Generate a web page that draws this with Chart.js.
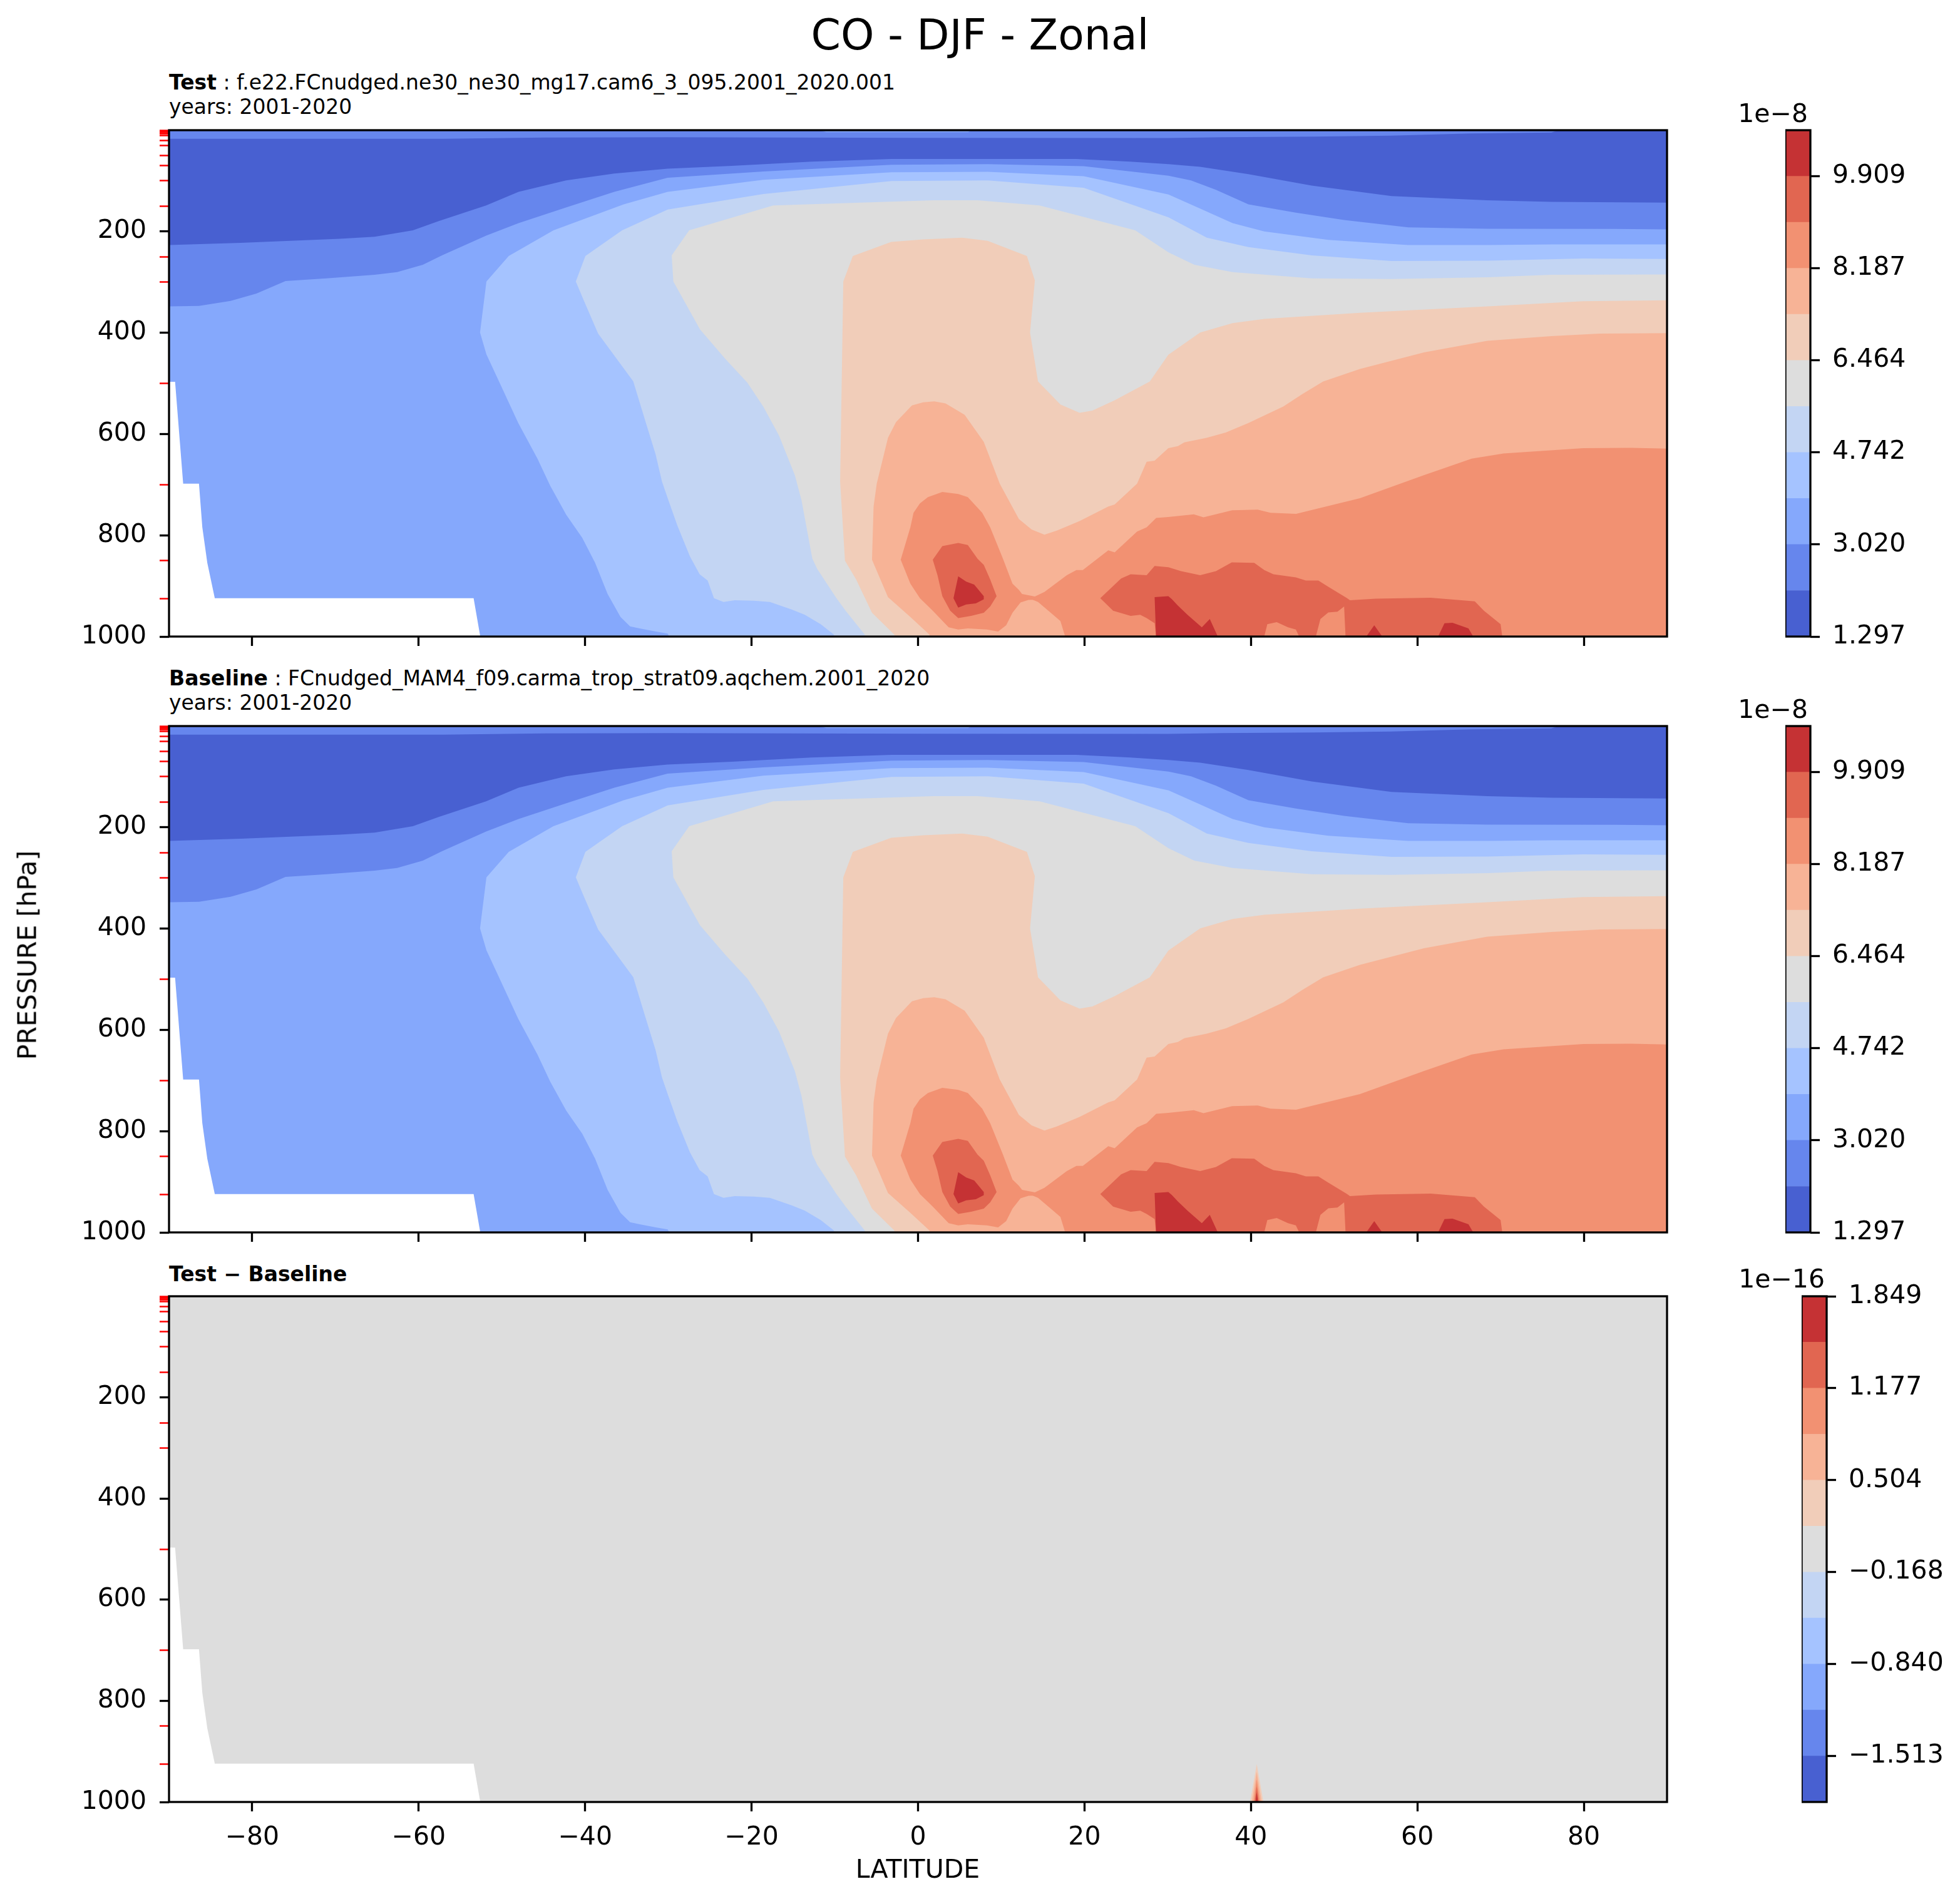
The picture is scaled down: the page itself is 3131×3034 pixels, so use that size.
<!DOCTYPE html>
<html>
<head>
<meta charset="utf-8">
<title>CO - DJF - Zonal</title>
<script src="https://cdn.jsdelivr.net/npm/chart.js@4.4.1/dist/chart.umd.min.js"></script>
<style>
    html, body { margin: 0; padding: 0; background: #fff; }
    body { width: 3131px; height: 3034px; position: relative; overflow: hidden; font-family: 'DejaVu Sans', sans-serif; color: #000; }
    canvas { position: absolute; }
    .txt { position: absolute; white-space: nowrap; line-height: 1; }
</style>
</head>
<body>

<div class="txt" style="left:0;width:3131px;text-align:center;top:22px;font-size:68px;">CO - DJF - Zonal</div>

<div class="txt" style="left:270px;top:115px;font-size:33px;"><b>Test</b> : f.e22.FCnudged.ne30_ne30_mg17.cam6_3_095.2001_2020.001</div>
<div class="txt" style="left:270px;top:154px;font-size:33px;">years: 2001-2020</div>
<div class="txt" style="left:270px;top:1067px;font-size:33px;"><b>Baseline</b> : FCnudged_MAM4_f09.carma_trop_strat09.aqchem.2001_2020</div>
<div class="txt" style="left:270px;top:1106px;font-size:33px;">years: 2001-2020</div>
<div class="txt" style="left:270px;top:2019px;font-size:33px;font-weight:bold;">Test − Baseline</div>

<canvas id="panelTest" width="2700" height="909" style="left:0;top:158px;"></canvas>
<canvas id="panelBase" width="2700" height="909" style="left:0;top:1110px;"></canvas>
<canvas id="panelDiff" width="2700" height="948" style="left:0;top:2021px;"></canvas>

<canvas id="cbTest" width="290" height="909" style="left:2852px;top:158px;"></canvas>
<canvas id="cbBase" width="290" height="909" style="left:2852px;top:1110px;"></canvas>
<canvas id="cbDiff" width="290" height="908" style="left:2878px;top:2021px;"></canvas>

<div class="txt" style="left:2888px;top:161px;font-size:41px;transform:translateX(-100%);">1e−8</div>
<div class="txt" style="left:2888px;top:1113px;font-size:41px;transform:translateX(-100%);">1e−8</div>
<div class="txt" style="left:2915px;top:2023px;font-size:41px;transform:translateX(-100%);">1e−16</div>

<div class="txt" style="left:44px;top:1526px;font-size:41px;transform:translate(-50%,-50%) rotate(-90deg);">PRESSURE [hPa]</div>
<div class="txt" style="left:1466px;top:2966px;font-size:41px;transform:translateX(-50%);">LATITUDE</div>

<script>
// ---- axes ----
const latTicks = [-80, -60, -40, -20, 0, 20, 40, 60, 80];
const pressureTicks = [200, 400, 600, 800, 1000];
const pressureLevels = [1, 2, 3, 5, 7, 10, 20, 30, 50, 70, 100, 150, 200, 250, 300, 400, 500, 600, 700, 850, 925, 1000];

// ---- contour levels (colorbars) ----
const coLevels = [1.297, 2.158, 3.020, 3.881, 4.742, 5.603, 6.464, 7.326, 8.187, 9.048, 9.909, 10.771];
const coTicks = [1.297, 3.020, 4.742, 6.464, 8.187, 9.909];
const diffLevels = [-1.849, -1.513, -1.177, -0.840, -0.504, -0.168, 0.168, 0.504, 0.840, 1.177, 1.513, 1.849];
const diffTicks = [-1.513, -0.840, -0.168, 0.504, 1.177, 1.849];

// ---- CO zonal mean: regions where value >= level k, as [latitude, pressure] outlines ----
const domain = [[-90, 0], [90, 0], [90, 1000], [-90, 1000]];
const coGe1Top = [[-90, 0], [77, 0], [76.1, 4.5], [66.4, 6.6], [56.8, 10.7], [47.6, 12.8], [36.5, 14], [30, 15.6], [0, 15], [-30, 14], [-45, 14.5], [-57, 16.9], [-90, 16.9]];
const coGe1 = [[-90, 226.7], [-81.4, 222.6], [-69.5, 214.4], [-65.3, 210.3], [-60.7, 197.9], [-57.6, 179.4], [-51.9, 148.6], [-48, 121.8], [-42.3, 99.2], [-36.5, 85.6], [-30.1, 76], [-22.4, 70.4], [-12.8, 62.1], [-3.2, 56.8], [8.3, 56.8], [19, 56.8], [25.5, 62.1], [30.1, 67], [33.9, 72.4], [39.7, 86.8], [47.3, 109.5], [56.9, 130], [68.4, 138.3], [76.1, 141.6], [90, 143.2], [90, 1000], [-90, 1000]];
const coGe2Top = [[-12, 0], [6.5, 0], [6, 4], [-11, 4]];
const coGe2 = [[-90, 348], [-86.4, 347], [-82.6, 337], [-79.5, 322.6], [-76, 298], [-71.1, 292.6], [-65.3, 285.6], [-62.6, 280.2], [-59.5, 265.8], [-57.2, 247.3], [-51.9, 208.2], [-48, 183.5], [-42.3, 152.7], [-36.5, 121.8], [-30.1, 94], [-18.6, 81.5], [-3.2, 68.3], [8.4, 67], [19.9, 71.2], [30.1, 90], [32.8, 99.2], [35.8, 117.7], [39.7, 146.5], [45.4, 163], [51.2, 177.4], [58.9, 191.8], [68.4, 194.7], [83.8, 195], [90, 196], [90, 1000], [-90, 1000]];
const coGe3 = [[-29.9, 1000], [-30.08, 994], [-31.5, 990], [-33.45, 984], [-34.6, 979.8], [-35.75, 961.3], [-37.3, 916], [-38.8, 854.3], [-40.35, 805], [-42.27, 759.7], [-44.2, 702], [-45.73, 648.6], [-48.03, 578.6], [-50.33, 497], [-51.86, 442.8], [-52.63, 399.6], [-51.86, 298.8], [-49.18, 248.6], [-43.81, 197.9], [-35.37, 146.5], [-30.08, 121.8], [-18.6, 98], [-3.2, 83.1], [8.4, 82.3], [19.9, 91], [30.1, 127], [33.9, 154.7], [37.8, 183.5], [41.6, 200], [49.3, 216.5], [58.9, 226.8], [68.4, 226.8], [76.1, 225.5], [90, 225.5], [90, 1000]];
const coGe4 = [[-10.1, 1000], [-10.1, 996.3], [-11.7, 975.7], [-13.6, 957.2], [-15.14, 946.9], [-17.8, 931.7], [-19.72, 929.2], [-22.03, 928.4], [-23.37, 931.7], [-24.52, 924.3], [-25.28, 889.3], [-26.24, 877], [-27.4, 842], [-28.93, 780.2], [-30.08, 726.7], [-30.77, 693.8], [-31.53, 640.3], [-32.69, 578.6], [-34.22, 496], [-38.44, 401.6], [-40.17, 335.8], [-41.12, 298.8], [-39.97, 248.6], [-35.56, 197.9], [-30.08, 156.8], [-18.6, 126], [-3.2, 100.4], [8.4, 99.2], [19.9, 113.6], [30.1, 172], [34.7, 212.3], [39.7, 230.9], [47.3, 247.3], [56.9, 258.4], [68.4, 257.6], [79.9, 253.5], [90, 254.3], [90, 1000]];
const coGe5 = [[-6.4, 1000], [-6.4, 996.3], [-8.7, 949], [-9.8, 924.3], [-12.1, 866.7], [-12.7, 846.1], [-14.0, 730.9], [-14.8, 681.5], [-16.7, 603.3], [-18.6, 545.7], [-20.5, 498.8], [-23.2, 451], [-26.2, 393.4], [-29.4, 298.8], [-29.6, 247.3], [-27.5, 197.9], [-17.4, 148.6], [1.8, 138.3], [7.2, 138.3], [14.6, 148.6], [26.1, 197.9], [30.1, 241.2], [33.2, 265.8], [37.8, 280.2], [47.3, 292.6], [56.9, 293.8], [68.4, 290.5], [76.1, 285.6], [90, 284.8], [90, 1000]];
const coGe6 = [[-2.84, 1000], [-2.84, 996.3], [-5.53, 953], [-7.44, 887.2], [-8.78, 850], [-9.36, 693.8], [-9.17, 496.3], [-8.98, 298.8], [-7.83, 248.6], [-3.22, 220.6], [0.62, 215.6], [5.3, 212.3], [8.36, 218.5], [13.08, 248.6], [14.04, 296.7], [13.46, 399.6], [14.42, 496.3], [17.11, 541.6], [19.41, 558], [20.95, 553.9], [23.63, 533.3], [27.85, 496.3], [30.08, 443.5], [33.9, 399.6], [37.8, 381.1], [41.6, 372.8], [53.1, 360.5], [68.4, 348.1], [79.9, 337.9], [90, 335.8], [90, 1000]];
const coGe7 = [[1.4, 1000], [1.38, 996.3], [-0.92, 961.3], [-3.61, 922.2], [-5.53, 848.2], [-5.34, 743.2], [-4.96, 698], [-3.61, 607.4], [-2.65, 576.5], [-0.73, 543.6], [0.62, 537.5], [1.95, 535.4], [3.3, 539.5], [5.6, 562.1], [7.9, 615.6], [9.82, 698], [12.12, 767.9], [13.65, 788.5], [15.19, 798.8], [16.72, 790.5], [19.41, 772], [22.86, 743.2], [23.63, 739.1], [26.32, 698], [27.47, 654.7], [28.43, 652.7], [30.08, 628], [31.23, 623.9], [32, 616.5], [34.68, 607.4], [36.98, 597.1], [39.67, 578.6], [43.89, 545.7], [46.19, 521], [48.68, 496.3], [53.1, 471.6], [60.8, 438.7], [68.4, 416], [76.1, 406.6], [81.9, 401.6], [90, 400.8], [90, 1000]];
const coGe8Tropics = [[-2.08, 848.2], [-0.92, 784.4], [-0.54, 755.6], [0.23, 737], [1.19, 724.7], [2.92, 714.4], [4.83, 718.5], [5.98, 724.7], [7.71, 755.6], [8.67, 784.4], [10.2, 846.1], [11.35, 895.5], [12.12, 907.8], [12.5, 916], [14.04, 921], [14.4, 927], [13.27, 927.6], [12.32, 932.5], [11.35, 953], [10.59, 977.8], [9.62, 990.1], [8.28, 986], [5.98, 984], [4.83, 986], [3.68, 981.9], [1.77, 949], [0.23, 924.3], [-0.92, 895.5]];
const coGe8North = [[14.04, 921], [15.19, 912], [17.88, 879], [19.03, 868.7], [19.8, 868.7], [22.86, 829.6], [23.63, 833.7], [26.32, 792.6], [27.47, 784.4], [28.62, 765.9], [30.08, 763.8], [33.14, 758.8], [34.3, 764.6], [37.75, 750.6], [40.82, 749.4], [42.35, 755.6], [45.42, 757.6], [53.1, 726.7], [60.77, 681.5], [66.53, 648.6], [70.36, 638.3], [79.95, 628], [85.7, 627.2], [90, 628.8], [90, 1000], [17.68, 1000], [17.11, 969.5], [15.95, 953], [14.42, 931.7], [13.6, 926]];
const coGe9Tropics = [[1.77, 848.2], [2.92, 821.4], [4.83, 815.2], [5.98, 819.3], [7.14, 846.1], [7.9, 858.4], [8.67, 887.2], [9.44, 920.2], [8.67, 940.7], [7.9, 953], [6.37, 959.2], [4.83, 963.4], [3.87, 949], [2.92, 920.2], [2.34, 879]];
const coGe9North = [[21.9, 924.3], [24.4, 885.2], [25.55, 877], [27.47, 879], [28.43, 860.5], [30.08, 863], [31.6, 870.8], [33.9, 879], [35.8, 870.8], [37.7, 853.5], [40.4, 854.3], [41.6, 868.7], [42.7, 877], [45.4, 883.1], [46.6, 889.3], [48.1, 889.3], [49.3, 901.6], [51.56, 924.3], [51.9, 928.4], [55, 925.1], [61.6, 923.5], [66.9, 930.4], [68, 949], [70, 975.7], [70.2, 1000], [51.37, 1000], [51.2, 940.7], [50.4, 951], [49.3, 952.3], [48.35, 965.4], [47.8, 1000], [45.8, 1000], [45.4, 986], [44.46, 981.9], [43.1, 971.6], [41.97, 975.7], [41.6, 1000], [28.6, 1000], [28.43, 973.7], [27.47, 963.4], [26.7, 957.2], [25.55, 959.2], [23.44, 949]];
const coGe10Tropics = [[4.83, 881.1], [5.79, 891.4], [6.75, 897.5], [7.9, 920.2], [7.9, 926.3], [6.95, 934.6], [5.79, 936.6], [4.83, 942.8], [4.26, 924.3]];
const coGe10NorthA = [[28.43, 922.2], [30.08, 920.2], [30.5, 926], [31.22, 938.7], [32.38, 957.2], [34.1, 981.9], [35.06, 965.4], [36.02, 1000], [28.6, 1000]];
const coGe10NorthB = [[53.86, 1000], [54.82, 977.8], [55.78, 1000]];
const coGe10NorthC = [[62.49, 1000], [63.26, 973.7], [64.22, 972.8], [66.14, 984], [66.71, 1000]];

// below-ground / missing values
const missingMask = [[-90, 497], [-89.27, 497], [-88.3, 698], [-86.4, 698], [-86.0, 784], [-85.4, 854.3], [-84.5, 924.3], [-53.4, 924.3], [-52.6, 1000], [-90, 1000]];

// ---- Test - Baseline difference: one tiny spike near 41N at the surface ----
const diffGe6 = [[39.9, 1000], [40.7, 925], [41.5, 1000]];
const diffGe7 = [[40.1, 1000], [40.7, 940], [41.3, 1000]];
const diffGe8 = [[40.3, 1000], [40.7, 955], [41.1, 1000]];
const diffGe9 = [[40.45, 1000], [40.7, 969], [40.95, 1000]];
const diffGe10 = [[40.55, 1000], [40.7, 981], [40.85, 1000]];

// coolwarm, 11 bands
const bandColors = ['#4860d1', '#6686ed', '#85a8fc', '#a5c3ff', '#c3d5f3', '#dddddd', '#f1cdb9', '#f7b396', '#f29172', '#e16651', '#c53234'];

Chart.defaults.font.family = "'DejaVu Sans', sans-serif";
Chart.defaults.color = '#000';

const minus = s => String(s).replace('-', '\u2212');

const framePlugin = {
    id: 'frame',
    afterDraw(chart) {
        const { ctx, chartArea: a } = chart;
        ctx.save();
        ctx.lineWidth = 3.3;
        ctx.strokeStyle = '#000';
        ctx.strokeRect(a.left, a.top, a.right - a.left, a.bottom - a.top);
        ctx.restore();
    }
};

const coLayers = [
    [domain, 0], [coGe1Top, 1], [coGe1, 1], [coGe2Top, 2], [coGe2, 2], [coGe3, 3], [coGe4, 4],
    [coGe5, 5], [coGe6, 6], [coGe7, 7], [coGe8Tropics, 8], [coGe8North, 8],
    [coGe9Tropics, 9], [coGe9North, 9], [coGe10Tropics, 10], [coGe10NorthA, 10],
    [coGe10NorthB, 10], [coGe10NorthC, 10], [missingMask, -1]
];
const diffLayers = [
    [domain, 5], [diffGe6, 6], [diffGe7, 7], [diffGe8, 8], [diffGe9, 9], [diffGe10, 10], [missingMask, -1]
];

const yTickValues = [...new Set([...pressureLevels, ...pressureTicks])].sort((a, b) => a - b);

// padding of 50 keeps the chart area independent of the tick-label overhang
function makePanel(id, layers, showLabels) {
    // later layers must be painted on top: higher order is drawn first
    const datasets = layers.map(([pts, band], i) => ({
        data: pts.map(([x, y]) => ({ x, y })),
        backgroundColor: band < 0 ? '#ffffff' : bandColors[band],
        borderWidth: 0,
        pointRadius: 0,
        tension: 0,
        fill: 'shape',
        order: layers.length - i
    }));

    new Chart(document.getElementById(id), {
        type: 'line',
        data: { datasets },
        options: {
            responsive: false,
            animation: false,
            events: [],
            layout: { padding: { top: 50, right: 37, bottom: 0, left: 0 } },
            plugins: { legend: { display: false }, tooltip: { enabled: false } },
            scales: {
                x: {
                    type: 'linear', min: -90, max: 90,
                    afterBuildTicks: s => { s.ticks = latTicks.map(v => ({ value: v })); },
                    afterFit: s => { s.height = showLabels ? 90 : 50; },
                    grid: { drawOnChartArea: false, tickLength: 15, tickWidth: 3.3, tickColor: '#000' },
                    border: { display: false },
                    ticks: { display: showLabels, font: { size: 41 }, padding: 18, maxRotation: 0, autoSkip: false, callback: v => minus(v) }
                },
                y: {
                    type: 'linear', reverse: true, min: 0, max: 1000,
                    afterBuildTicks: s => { s.ticks = yTickValues.map(v => ({ value: v })); },
                    afterFit: s => { s.width = 270; },
                    grid: {
                        drawOnChartArea: false, tickLength: 15,
                        tickWidth: c => pressureTicks.includes(c.tick.value) ? 3.3 : 2.5,
                        tickColor: c => pressureTicks.includes(c.tick.value) ? '#000' : '#ff0000'
                    },
                    border: { display: false },
                    ticks: { font: { size: 41 }, padding: 21, autoSkip: false, callback: v => pressureTicks.includes(v) ? String(v) : '' }
                }
            }
        },
        plugins: [framePlugin]
    });
}

function makeColorbar(id, levels, ticks) {
    const datasets = bandColors.map((c, i) => ({
        data: [[levels[i], levels[i + 1]]],
        backgroundColor: c,
        borderWidth: 0,
        barPercentage: 1,
        categoryPercentage: 1,
        grouped: false
    }));

    new Chart(document.getElementById(id), {
        type: 'bar',
        data: { labels: [''], datasets },
        options: {
            responsive: false,
            animation: false,
            events: [],
            layout: { padding: { top: 50, right: 0, bottom: 50, left: 0 } },
            plugins: { legend: { display: false }, tooltip: { enabled: false } },
            scales: {
                x: { display: false },
                y: {
                    position: 'right', min: levels[0], max: levels[levels.length - 1],
                    afterBuildTicks: s => { s.ticks = ticks.map(v => ({ value: v })); },
                    afterFit: s => { s.width = 250; },
                    grid: { drawOnChartArea: false, tickLength: 15, tickWidth: 3.3, tickColor: '#000' },
                    border: { display: false },
                    ticks: { font: { size: 41 }, padding: 20, autoSkip: false, callback: v => minus(v.toFixed(3)) }
                }
            }
        },
        plugins: [framePlugin]
    });
}

makePanel('panelTest', coLayers, false);
makePanel('panelBase', coLayers, false);
makePanel('panelDiff', diffLayers, true);
makeColorbar('cbTest', coLevels, coTicks);
makeColorbar('cbBase', coLevels, coTicks);
makeColorbar('cbDiff', diffLevels, diffTicks);
</script>
</body>
</html>
